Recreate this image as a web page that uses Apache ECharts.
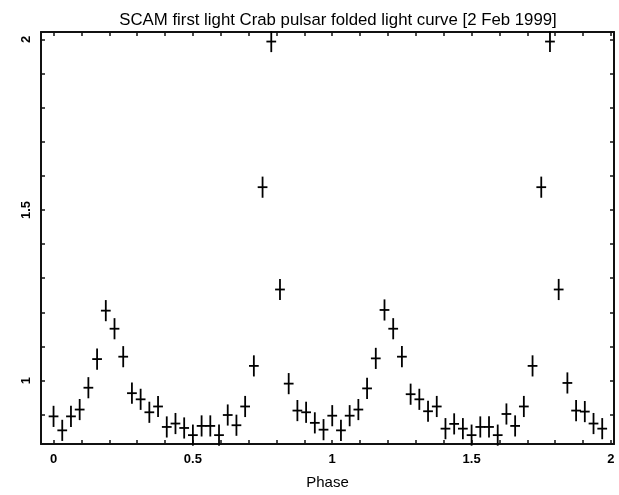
<!DOCTYPE html>
<html>
<head>
<meta charset="utf-8">
<script src="https://cdn.jsdelivr.net/npm/echarts@6/dist/echarts.min.js"></script>
<style>html,body{margin:0;padding:0;background:#fff;}#c{width:619px;height:495px;}</style>
</head>
<body>
<div id="c"></div>
<script>
const titleText = 'SCAM first light Crab pulsar folded light curve [2 Feb 1999]';
const xName = 'Phase';
const phases = [
  0.00000,0.03125,0.06250,0.09375,0.12500,0.15625,0.18750,0.21875,
  0.25000,0.28125,0.31250,0.34375,0.37500,0.40625,0.43750,0.46875,
  0.50000,0.53125,0.56250,0.59375,0.62500,0.65625,0.68750,0.71875,
  0.75000,0.78125,0.81250,0.84375,0.87500,0.90625,0.93750,0.96875,
  1.00000,1.03125,1.06250,1.09375,1.12500,1.15625,1.18750,1.21875,
  1.25000,1.28125,1.31250,1.34375,1.37500,1.40625,1.43750,1.46875,
  1.50000,1.53125,1.56250,1.59375,1.62500,1.65625,1.68750,1.71875,
  1.75000,1.78125,1.81250,1.84375,1.87500,1.90625,1.93750,1.96875
];
const flux = [
  0.895,0.854,0.895,0.915,0.979,1.063,1.205,1.152,
  1.070,0.963,0.945,0.907,0.924,0.864,0.874,0.861,
  0.840,0.867,0.867,0.840,0.899,0.869,0.924,1.043,
  1.567,1.994,1.267,0.991,0.912,0.907,0.876,0.856,
  0.897,0.854,0.897,0.915,0.977,1.065,1.207,1.152,
  1.070,0.960,0.945,0.910,0.924,0.859,0.873,0.859,
  0.840,0.864,0.864,0.840,0.902,0.867,0.924,1.043,
  1.567,1.994,1.267,0.993,0.912,0.909,0.874,0.859
];
const fluxErr = 0.031;
const phaseHalfWidth = 0.0175;
const xTickValues = [0,0.1,0.2,0.3,0.4,0.5,0.6,0.7,0.8,0.9,1.0,1.1,1.2,1.3,1.4,1.5,1.6,1.7,1.8,1.9,2.0];
const xLabelValues = [0,0.5,1,1.5,2];
const yTickValues = [0.9,1.0,1.1,1.2,1.3,1.4,1.5,1.6,1.7,1.8,1.9,2.0];
const yLabelValues = [1,1.5,2];

const data = phases.map((p, i) => [p, flux[i], fluxErr, phaseHalfWidth]);

const chart = echarts.init(document.getElementById('c'), null, {renderer: 'canvas'});
const axisColor = '#111';
const lineStyle = {color: axisColor, width: 2};
const fontFamily = '"Liberation Sans", Arial, sans-serif';

function xAxisCfg(pos, showLabel) {
  return {
    type: 'value', position: pos, min: -0.045, max: 2.011,
    splitLine: {show: false},
    axisLine: {show: true, onZero: false, lineStyle: lineStyle},
    axisTick: {show: true, inside: true, length: 4, customValues: xTickValues, lineStyle: {color: axisColor, width: 1.5}},
    axisLabel: {show: showLabel, customValues: xLabelValues, color: '#000', fontSize: 13, fontWeight: 'bold', fontFamily: fontFamily, margin: 9,
      formatter: v => String(v)},
    name: showLabel ? xName : '', nameLocation: 'middle', nameGap: 31,
    nameTextStyle: {color: '#000', fontSize: 15, fontFamily: fontFamily}
  };
}
function yAxisCfg(pos, showLabel) {
  return {
    type: 'value', position: pos, min: 0.814, max: 2.022,
    splitLine: {show: false},
    axisLine: {show: true, onZero: false, lineStyle: lineStyle},
    axisTick: {show: true, inside: true, length: 4, customValues: yTickValues, lineStyle: {color: axisColor, width: 1.5}},
    axisLabel: {show: showLabel, customValues: yLabelValues, rotate: 90, color: '#000', fontSize: 13, fontWeight: 'bold', fontFamily: fontFamily, margin: 8,
      formatter: v => String(v)}
  };
}

chart.setOption({
  animation: false,
  backgroundColor: '#fff',
  title: {
    text: titleText, left: 333, textAlign: 'center', top: 7,
    textStyle: {color: '#000', fontSize: 16.8, fontWeight: 'normal', fontFamily: fontFamily}
  },
  grid: {left: 41, right: 5, top: 32, bottom: 43, containLabel: false},
  xAxis: [xAxisCfg('bottom', true), xAxisCfg('top', false)],
  yAxis: [yAxisCfg('left', true), yAxisCfg('right', false)],
  series: [{
    type: 'custom',
    xAxisIndex: 0, yAxisIndex: 0,
    data: data,
    renderItem: function (params, api) {
      const x = api.value(0), y = api.value(1), e = api.value(2), w = api.value(3);
      const top = api.coord([x, y + e]);
      const bot = api.coord([x, y - e]);
      const l = api.coord([x - w, y]);
      const r = api.coord([x + w, y]);
      const style = {stroke: '#000', lineWidth: 1.8};
      return {
        type: 'group',
        children: [
          {type: 'line', shape: {x1: top[0], y1: top[1], x2: bot[0], y2: bot[1]}, style: style},
          {type: 'line', shape: {x1: l[0], y1: l[1], x2: r[0], y2: r[1]}, style: style}
        ]
      };
    }
  }]
});
</script>
</body>
</html>
